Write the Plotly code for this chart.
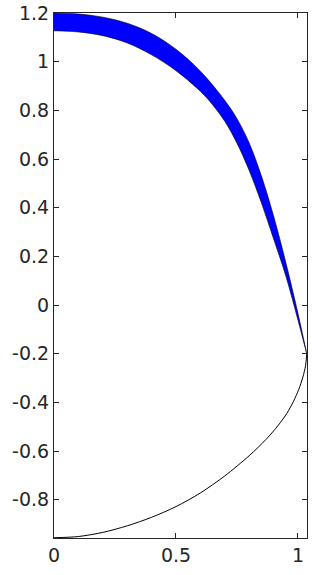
import plotly.graph_objects as go

# Outer edge of the blue band
outer_x = [0.0, 0.1, 0.2, 0.3, 0.4, 0.5, 0.6, 0.7, 0.75, 0.8, 0.85, 0.9, 0.95, 1.0, 1.036]
outer_y = [1.2, 1.196, 1.183, 1.158, 1.116, 1.051, 0.961, 0.841, 0.766, 0.666, 0.531, 0.366, 0.176, -0.034, -0.2]
# Inner edge of the blue band
inner_x = [0.0, 0.1, 0.2, 0.3, 0.4, 0.5, 0.6, 0.65, 0.7, 0.75, 0.8, 0.85, 0.9, 0.95, 1.0, 1.036]
inner_y = [1.127, 1.122, 1.107, 1.077, 1.028, 0.963, 0.878, 0.823, 0.755, 0.665, 0.553, 0.42, 0.272, 0.12, -0.062, -0.2]
# Lower curve
lower_x = [0.0, 0.1, 0.2, 0.3, 0.4, 0.5, 0.6, 0.7, 0.8, 0.87, 0.92, 0.955, 0.982, 1.003, 1.02, 1.031, 1.036]
lower_y = [-0.956, -0.951, -0.934, -0.907, -0.872, -0.828, -0.772, -0.702, -0.619, -0.551, -0.493, -0.444, -0.395, -0.347, -0.296, -0.25, -0.2]

x_ticks = [0, 0.5, 1]
x_labels = ["0", "0.5", "1"]
y_ticks = [-0.8, -0.6, -0.4, -0.2, 0, 0.2, 0.4, 0.6, 0.8, 1.0, 1.2]
y_labels = ["-0.8", "-0.6", "-0.4", "-0.2", "0", "0.2", "0.4", "0.6", "0.8", "1", "1.2"]

band_x = outer_x + inner_x[::-1]
band_y = outer_y + inner_y[::-1]

fig = go.Figure()
fig.add_trace(go.Scatter(
    x=band_x, y=band_y, mode="lines", fill="toself",
    fillcolor="#0000ff", line=dict(color="#000000", width=0.6, shape="spline", smoothing=1.0),
    hoverinfo="skip", showlegend=False))
fig.add_trace(go.Scatter(
    x=lower_x, y=lower_y, mode="lines",
    line=dict(color="#000000", width=1, shape="spline", smoothing=0.8),
    hoverinfo="skip", showlegend=False))

axis_common = dict(
    showgrid=False, zeroline=False, showline=True, linecolor="#262626", linewidth=1,
    mirror="ticks", ticks="inside", ticklen=5, tickcolor="#262626", automargin=False,
    tickfont=dict(family="DejaVu Sans", size=19, color="#262626"),
)
fig.update_xaxes(range=[0, 1.037], tickvals=x_ticks, ticktext=x_labels, **axis_common)
fig.update_yaxes(range=[-0.957, 1.2], tickvals=y_ticks, ticktext=y_labels, **axis_common)

fig.update_layout(
    width=312, height=575,
    margin=dict(l=54, r=5, t=13, b=37),
    paper_bgcolor="white", plot_bgcolor="white",
)
fig.write_html("out.html", config={"displayModeBar": False},
               post_script="document.body.style.margin='0';document.body.style.overflow='hidden';")
